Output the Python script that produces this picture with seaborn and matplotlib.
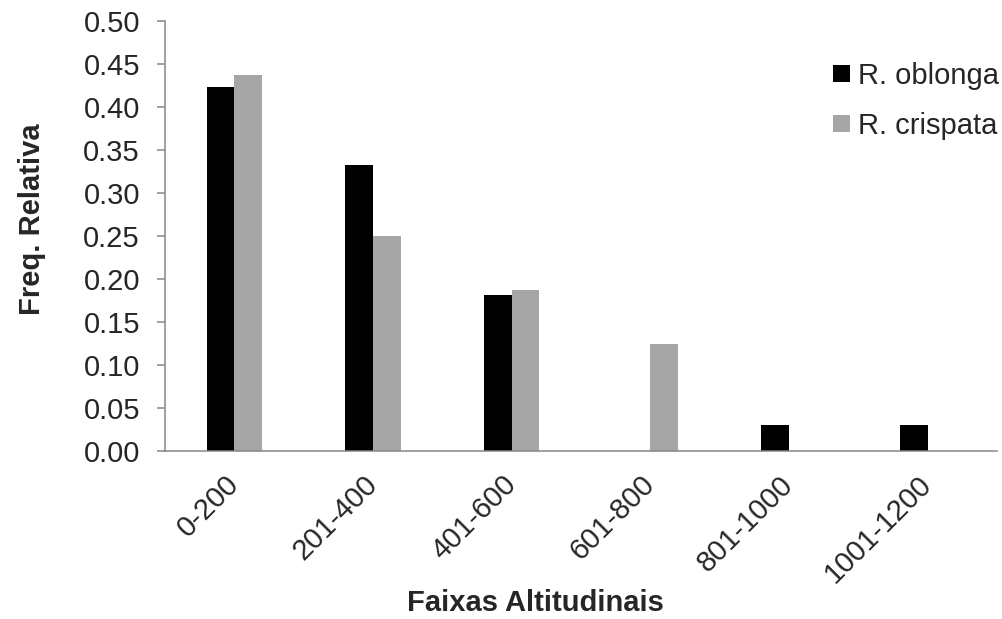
import pandas as pd
import matplotlib
matplotlib.use("Agg")
import matplotlib.pyplot as plt
import seaborn as sns

#%%
# data
faixas = ["0-200", "201-400", "401-600", "601-800", "801-1000", "1001-1200"]
oblonga = [0.424, 0.333, 0.182, 0.0, 0.030, 0.030]
crispata = [0.4375, 0.25, 0.1875, 0.125, 0.0, 0.0]
especies = ["R. oblonga", "R. crispata"]
cores = ["#000000", "#a6a6a6"]

df = pd.DataFrame({
    "Faixa": faixas * 2,
    "Freq": oblonga + crispata,
    "Especie": [especies[0]] * len(faixas) + [especies[1]] * len(faixas),
})

#%%
sns.set_style("ticks")
plt.rcParams['font.family'] = ['Liberation Sans', 'DejaVu Sans']
fs = 21

fig = plt.figure(figsize=(10.03, 6.19), dpi=100)
ax = fig.add_axes([0.1645, 0.2714, 0.8295, 0.6939])

sns.barplot(data=df, x="Faixa", y="Freq", hue="Especie", order=faixas,
            hue_order=especies, palette=cores, width=0.4, gap=0,
            saturation=1, linewidth=0, ax=ax)

ax.set_xlim(-0.5, len(faixas) - 0.5)
ax.set_ylim(0, 0.5)
ax.set_yticks([i * 0.05 for i in range(11)])
ax.set_yticklabels([f"{i * 0.05:.2f}" for i in range(11)], fontsize=fs)
ax.set_xticks(range(len(faixas)))
ax.set_xticklabels(faixas, fontsize=fs, rotation=45, ha="right",
                   va="center", rotation_mode="anchor")

for s in ["top", "right"]:
    ax.spines[s].set_visible(False)
for s in ["left", "bottom"]:
    ax.spines[s].set_color("#868686")
    ax.spines[s].set_linewidth(1.1)
ax.tick_params(axis="y", length=6, width=1.1, color="#868686", pad=12)
ax.tick_params(axis="x", length=0, pad=21)

ax.set_xlabel("Faixas Altitudinais", fontsize=fs, fontweight="bold")
ax.set_ylabel("Freq. Relativa", fontsize=fs, fontweight="bold")
ax.xaxis.set_label_coords(0.445, -0.322)
ax.yaxis.set_label_coords(-0.143, 0.54)

handles, labels = ax.get_legend_handles_labels()
ax.legend(handles, labels, loc="upper left", bbox_to_anchor=(0.831, 0.90),
          bbox_transform=fig.transFigure, frameon=False, fontsize=fs,
          handlelength=0.55, handleheight=0.55, handletextpad=0.3,
          labelspacing=0.75, borderaxespad=0, borderpad=0)

plt.savefig("out.png", dpi=100)
